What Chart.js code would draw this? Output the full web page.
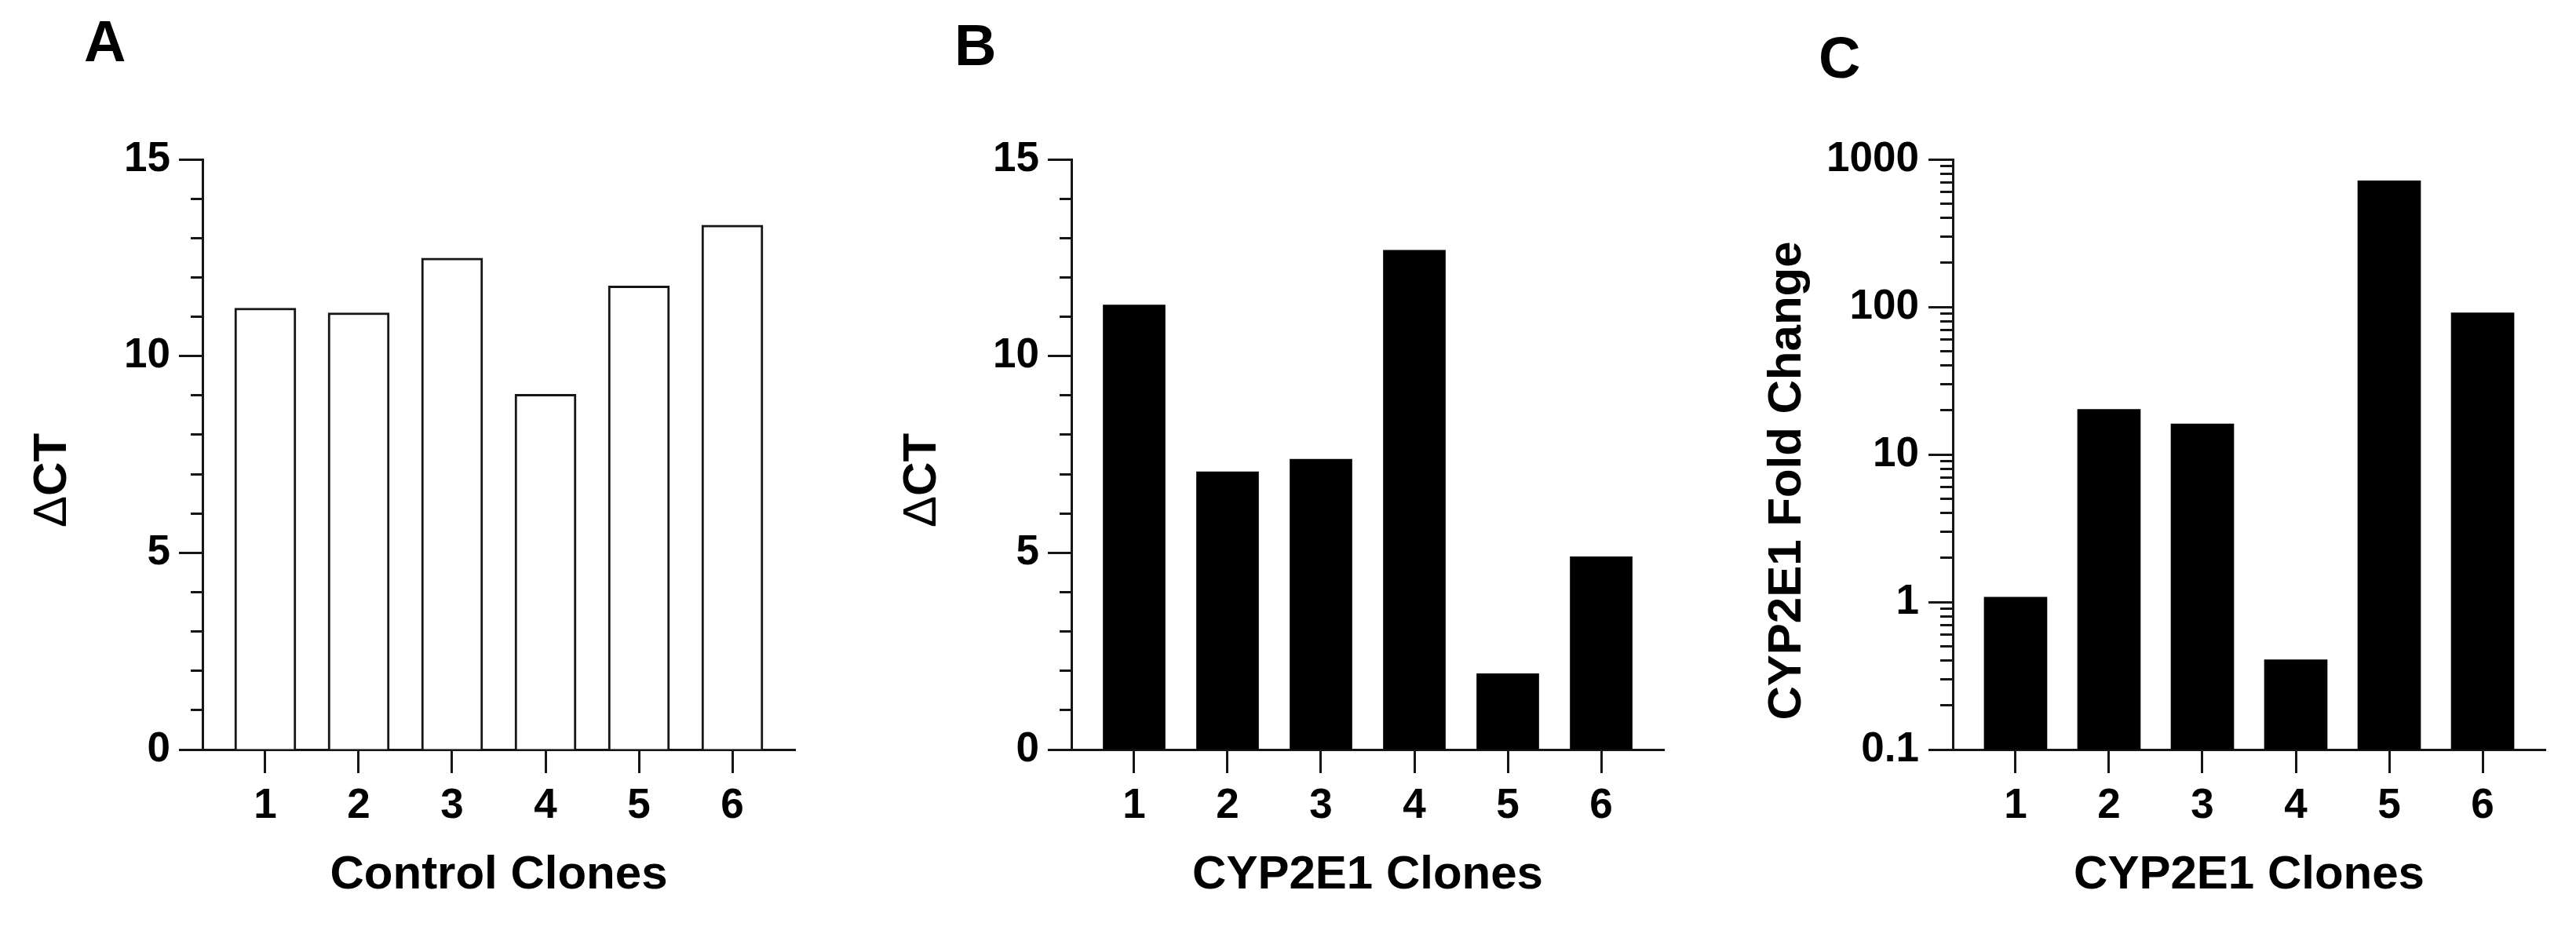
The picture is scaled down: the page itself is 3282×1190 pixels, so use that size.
<!DOCTYPE html>
<html>
<head>
<meta charset="utf-8">
<script src="https://cdn.jsdelivr.net/npm/chart.js@4.4.1/dist/chart.umd.min.js"></script>
<style>
  html, body { margin: 0; padding: 0; background: #fff; width: 3282px; height: 1190px; overflow: hidden; }
  canvas { position: absolute; top: 0; }
</style>
</head>
<body>
<canvas id="cA" width="1052" height="1190" style="left:0px"></canvas>
<canvas id="cB" width="1052" height="1190" style="left:1107px"></canvas>
<canvas id="cC" width="1052" height="1190" style="left:2230px"></canvas>
<script>
// ---------------- data ----------------
const clones = [1, 2, 3, 4, 5, 6];
const controlDeltaCT = [11.22, 11.10, 12.49, 9.03, 11.78, 13.33];
const cyp2e1DeltaCT = [11.30, 7.06, 7.38, 12.69, 1.93, 4.90];
const cyp2e1FoldChange = [1.08, 20.2, 16.1, 0.406, 716, 91];

const deltaCTTicks = [0, 5, 10, 15];
const deltaCTTickLabels = ['0', '5', '10', '15'];
const deltaCTMinorTicks = [0, 1, 2, 3, 4, 5, 6, 7, 8, 9, 10, 11, 12, 13, 14, 15];

const foldTicks = [0.1, 1, 10, 100, 1000];
const foldTickLabels = ['0.1', '1', '10', '100', '1000'];
const foldMinorTicks = [0.1, 0.2, 0.3, 0.4, 0.5, 0.6, 0.7, 0.8, 0.9,
                        1, 2, 3, 4, 5, 6, 7, 8, 9,
                        10, 20, 30, 40, 50, 60, 70, 80, 90,
                        100, 200, 300, 400, 500, 600, 700, 800, 900, 1000];

// ---------------- style ----------------
const FONT = "'Liberation Sans', Arial, Helvetica, sans-serif";
const INK = '#161616';
Chart.defaults.font.family = FONT;
Chart.defaults.color = '#000';

const panelPlugin = {
  id: 'panelText',
  afterDraw(chart, args, opts) {
    const ctx = chart.ctx;
    ctx.save();
    ctx.fillStyle = '#000';
    ctx.font = 'bold 74px ' + FONT;
    ctx.textAlign = 'left';
    ctx.textBaseline = 'alphabetic';
    ctx.fillText(opts.letter, opts.letterX, opts.letterY);

    ctx.translate(opts.titleX, opts.titleY);
    ctx.rotate(-Math.PI / 2);
    ctx.textBaseline = 'middle';
    let total = 0;
    const widths = opts.titleParts.map(p => {
      ctx.font = p.weight + ' 60px ' + FONT;
      const w = ctx.measureText(p.text).width;
      total += w;
      return w;
    });
    let x = -total / 2;
    opts.titleParts.forEach((p, i) => {
      ctx.font = p.weight + ' 60px ' + FONT;
      ctx.fillText(p.text, x, 0);
      x += widths[i];
    });
    ctx.restore();
  }
};

function makeChart(id, cfg) {
  const yType = cfg.log ? 'logarithmic' : 'linear';
  return new Chart(document.getElementById(id), {
    type: 'bar',
    data: {
      datasets: [{
        data: clones.map((c, i) => ({ x: c, y: cfg.values[i] })),
        backgroundColor: cfg.fill,
        borderColor: INK,
        borderWidth: cfg.borderWidth,
        borderSkipped: 'bottom',
        barThickness: cfg.barW,
        xAxisID: 'x',
        yAxisID: 'y'
      }]
    },
    options: {
      responsive: false,
      animation: false,
      devicePixelRatio: 1,
      layout: { padding: { left: 28, right: 39, top: 203, bottom: 45 } },
      plugins: {
        legend: { display: false },
        tooltip: { enabled: false },
        panelText: cfg.text
      },
      scales: {
        x: {
          type: 'linear',
          position: 'bottom',
          min: 0.328,
          max: 6.672,
          offset: false,
          z: 1,
          afterBuildTicks: s => { s.ticks = clones.map(v => ({ value: v })); },
          afterFit: s => { s.height = 190; s.paddingLeft = 0; s.paddingRight = 0; s.paddingTop = 0; s.paddingBottom = 0; },
          grid: { display: true, offset: false, drawOnChartArea: false, drawTicks: true, tickLength: 30, tickWidth: 3, tickColor: INK },
          border: { display: true, width: 3, color: INK },
          ticks: { padding: 11, font: { size: 53, weight: 'bold' }, color: '#000', autoSkip: false, maxRotation: 0, minRotation: 0,
                   callback: (v, i) => String(clones[i]) },
          title: { display: true, text: cfg.xTitle, font: { size: 60, weight: 'bold', lineHeight: 1 }, color: '#000', padding: 0 }
        },
        y: {
          type: yType,
          position: 'left',
          weight: 1,
          min: cfg.min,
          max: cfg.max,
          afterBuildTicks: s => { s.ticks = cfg.ticks.map(v => ({ value: v })); },
          afterFit: s => { s.width = 230; s.paddingTop = 0; s.paddingBottom = 0; s.paddingLeft = 0; s.paddingRight = 0; },
          grid: { display: true, drawOnChartArea: false, drawTicks: true, tickLength: cfg.majorLen, tickWidth: 3, tickColor: INK },
          border: { display: true, width: 3, color: INK },
          ticks: { padding: cfg.labelPad, font: { size: 53, weight: 'bold' }, color: '#000', autoSkip: false,
                   callback: (v, i) => cfg.tickLabels[i] },
          title: { display: false }
        },
        yMinor: {
          type: yType,
          position: 'left',
          weight: 0,
          min: cfg.min,
          max: cfg.max,
          afterBuildTicks: s => { s.ticks = cfg.minorTicks.map(v => ({ value: v })); },
          afterFit: s => { s.width = 0; s.paddingTop = 0; s.paddingBottom = 0; s.paddingLeft = 0; s.paddingRight = 0; },
          grid: { display: true, drawOnChartArea: false, drawTicks: true, tickLength: cfg.minorLen, tickWidth: 3, tickColor: INK },
          border: { display: false },
          ticks: { display: false },
          title: { display: false }
        }
      }
    },
    plugins: [panelPlugin]
  });
}

makeChart('cA', {
  values: controlDeltaCT, fill: '#ffffff', borderWidth: 3, barW: 78,
  min: 0, max: 15, ticks: deltaCTTicks, tickLabels: deltaCTTickLabels, minorTicks: deltaCTMinorTicks,
  majorLen: 30, minorLen: 15, labelPad: 11,
  xTitle: 'Control Clones',
  text: { letter: 'A', letterX: 107, letterY: 78, titleX: 67.5, titleY: 612,
          titleParts: [{ text: 'Δ', weight: 'normal' }, { text: 'CT', weight: 'bold' }] }
});

makeChart('cB', {
  values: cyp2e1DeltaCT, fill: '#000000', borderWidth: 0, barW: 79,
  min: 0, max: 15, ticks: deltaCTTicks, tickLabels: deltaCTTickLabels, minorTicks: deltaCTMinorTicks,
  majorLen: 30, minorLen: 15, labelPad: 11,
  xTitle: 'CYP2E1 Clones',
  text: { letter: 'B', letterX: 109, letterY: 83, titleX: 68, titleY: 612,
          titleParts: [{ text: 'Δ', weight: 'normal' }, { text: 'CT', weight: 'bold' }] }
});

makeChart('cC', {
  values: cyp2e1FoldChange, fill: '#000000', borderWidth: 0, barW: 80, log: true,
  min: 0.1, max: 1000, ticks: foldTicks, tickLabels: foldTickLabels, minorTicks: foldMinorTicks,
  majorLen: 31, minorLen: 16, labelPad: 12,
  xTitle: 'CYP2E1 Clones',
  text: { letter: 'C', letterX: 87, letterY: 99, titleX: 47.5, titleY: 612.5,
          titleParts: [{ text: 'CYP2E1 Fold Change', weight: 'bold' }] }
});
</script>
</body>
</html>
